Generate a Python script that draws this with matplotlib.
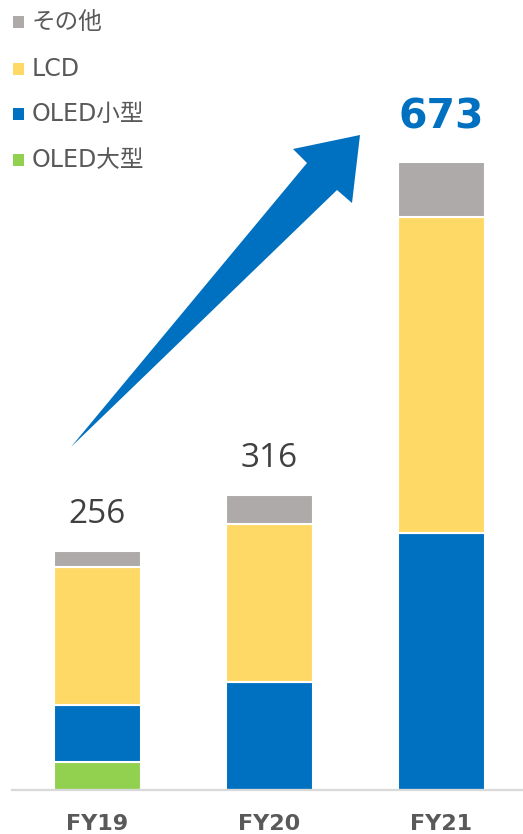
import matplotlib
matplotlib.use("Agg")
import matplotlib.pyplot as plt
from matplotlib.patches import Polygon, Rectangle
import numpy as np

# data
years = ["FY19", "FY20", "FY21"]
oled_large = [30, 0, 0]
oled_small = [61, 116, 276]
lcd = [148, 169, 338]
other = [17, 31, 59]
totals = [256, 316, 673]

series = [
    ("OLED大型", oled_large, "#92D050"),
    ("OLED小型", oled_small, "#0070C0"),
    ("LCD", lcd, "#FFD966"),
    ("その他", other, "#AEAAAA"),
]
legend_order = ["その他", "LCD", "OLED小型", "OLED大型"]

W, H = 523, 834
fig = plt.figure(figsize=(W / 100, H / 100), dpi=100)

# axes placed in pixel terms
ax_left, ax_right, ax_base, ax_top = 12, 523, 790, 137
ax = fig.add_axes([ax_left / W, (H - ax_base) / H,
                   (ax_right - ax_left) / W, (ax_base - ax_top) / H])

x = np.arange(len(years))
bottom = np.zeros(len(years))
for name, vals, col in series:
    vals = np.array(vals, dtype=float)
    ax.bar(x, vals, width=0.506, bottom=bottom, color=col,
           edgecolor="white", linewidth=1.5, zorder=2)
    bottom += vals

ax.set_xlim(-0.497, 2.474)
ax.set_ylim(0, 700)
for s in ax.spines.values():
    s.set_visible(False)
ax.axhline(0, color="#D9D9D9", linewidth=1.6, zorder=3, clip_on=False)
ax.set_yticks([])
ax.set_xticks(x)
ax.set_xticklabels(years, fontsize=16, fontweight="bold", color="#595959",
                   family="DejaVu Sans")
ax.tick_params(axis="x", length=0, pad=17)

# total labels
for i, t in enumerate(totals):
    if i == len(totals) - 1:
        ax.annotate(str(t), (x[i], t), xytext=(0, 32), textcoords="offset points",
                    ha="center", va="center", fontsize=29.5, fontweight="bold",
                    color="#0070C0", family="DejaVu Sans")
    else:
        ax.annotate(str(t), (x[i], t), xytext=(0, 26.5), textcoords="offset points",
                    ha="center", va="center", fontsize=24,
                    color="#404040", family="Open Sans")

# growth arrow (decoration, figure pixel coords)
arrow_px = [(71, 447), (307, 163), (293, 149), (360, 135),
            (352, 203), (337, 190)]
arrow = Polygon([(px / W, 1 - py / H) for px, py in arrow_px], closed=True,
                transform=fig.transFigure, facecolor="#0070C0",
                edgecolor="none", zorder=5)
fig.patches.append(arrow)

# legend drawn by hand
colors = {name: col for name, _, col in series}
row_y = [22, 69, 114, 160]
for name, yy in zip(legend_order, row_y):
    fig.patches.append(Rectangle((13 / W, 1 - (yy + 5.5) / H), 11 / W, 11 / H,
                                 transform=fig.transFigure,
                                 facecolor=colors[name], edgecolor="none"))
    fig.text(32 / W, 1 - yy / H, name, fontsize=17, color="#595959",
             ha="left", va="center",
             family=["DejaVu Sans", "Noto Sans CJK JP"])

fig.savefig("out.png", dpi=100)
